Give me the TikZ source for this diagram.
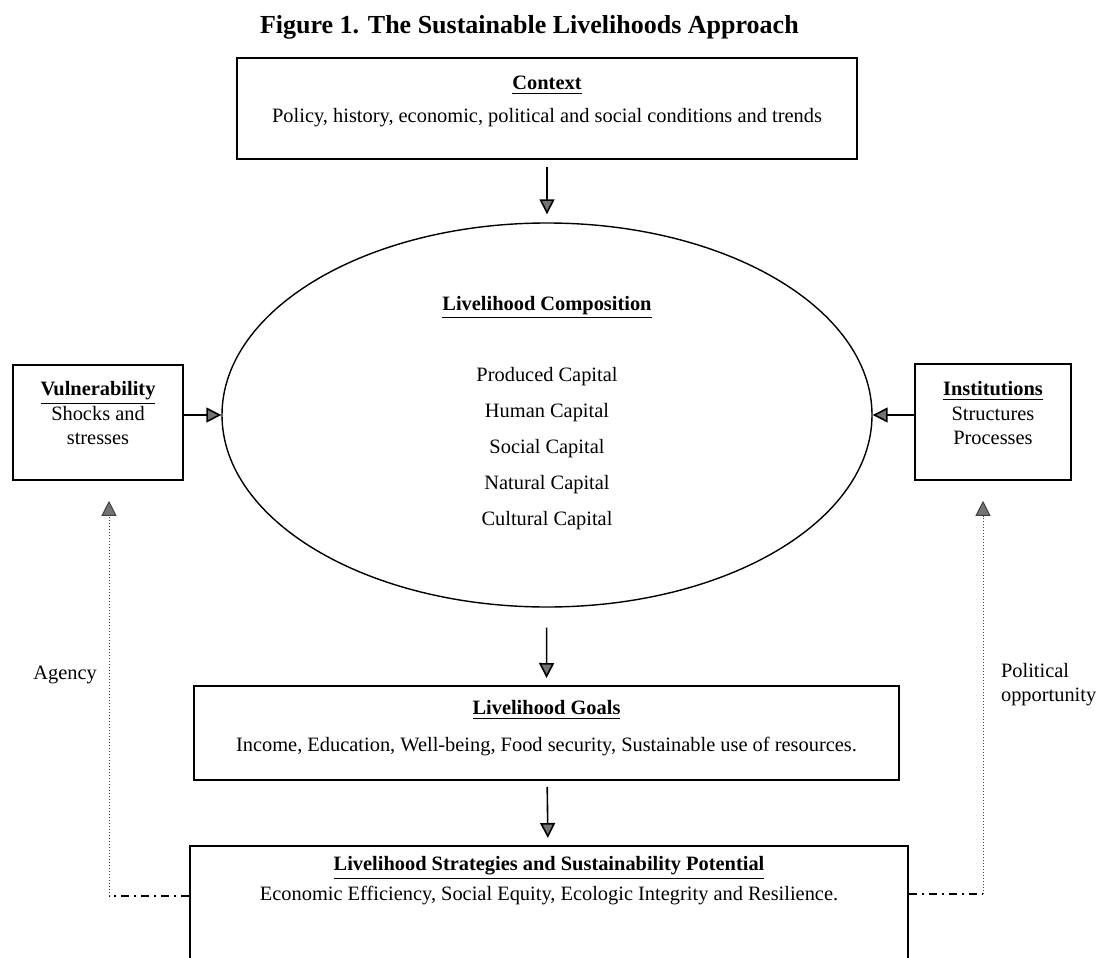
\documentclass[tikz,border=0pt]{standalone}
\usepackage{fontspec}
\setmainfont{Liberation Serif}
\usetikzlibrary{shapes.geometric, arrows.meta, positioning, calc}

\newcommand{\hd}[1]{\underline{\textbf{#1}}}

\begin{document}
\begin{tikzpicture}[
  x=0.5pt, y=-0.5pt,
  box/.style   = {rectangle, draw=black, line width=0.9pt, anchor=north,
                  inner xsep=0pt, inner ysep=0pt, align=center,
                  font=\fontsize{10.2}{#1}\selectfont},
  oval/.style  = {ellipse, draw=black, line width=0.7pt, inner sep=0pt,
                  align=center, font=\fontsize{10.2}{18}\selectfont},
  arr/.style   = {-{Triangle[width=7.5pt, length=7.5pt, fill=black!55]},
                  line width=0.8pt, draw=black},
  feed/.style  = {-{Triangle[width=7.5pt, length=7.5pt, fill=black!55]},
                  densely dotted, line width=0.5pt, draw=black!75},
  dashdot/.style = {line width=0.9pt, draw=black,
                    dash pattern=on 4pt off 2.5pt on 1pt off 2.5pt},
  lbl/.style   = {font=\fontsize{10.2}{12}\selectfont},
]

\useasboundingbox (0,0) rectangle (1098,958);
\clip (0,0) rectangle (1098,958);

% ── Title ──────────────────────────────────────────────────────────────────────
\node[anchor=west, font=\fontsize{13}{15}\selectfont\bfseries] (title) at (253,27)
  {Figure 1. The Sustainable Livelihoods Approach};

% ── Context ────────────────────────────────────────────────────────────────────
\node[box=16.5pt, minimum width=310pt, text height=32.5pt, text depth=18pt] (ctx) at (547,57)
  {\hd{Context}\\Policy, history, economic, political and social conditions and trends};

% ── Livelihood composition ─────────────────────────────────────────────────────
\node[oval, minimum width=325pt, minimum height=192pt, text height=116pt, text depth=6pt] (comp) at (547,415)
  {\hd{Livelihood Composition}\\[17.5pt]Produced Capital\\Human Capital\\Social Capital\\Natural Capital\\Cultural Capital};

% ── Vulnerability / Institutions ───────────────────────────────────────────────
\node[box=12.25pt, minimum width=85pt, text height=40pt, text depth=17.5pt] (vul) at (98,364)
  {\hd{Vulnerability}\\Shocks and\\stresses};
\node[box=12.25pt, minimum width=78pt, text height=40.5pt, text depth=17.5pt] (inst) at (993,363)
  {\hd{Institutions}\\Structures\\Processes};

% ── Goals ──────────────────────────────────────────────────────────────────────
\node[box=18.5pt, minimum width=352.5pt, text height=33pt, text depth=14pt] (goals) at (546.5,685)
  {\hd{Livelihood Goals}\\Income, Education, Well-being, Food security, Sustainable use of resources.};

% ── Strategies ─────────────────────────────────────────────────────────────────
\node[box=15pt, minimum width=359pt, text height=27.5pt, text depth=50pt] (strat) at (549,845)
  {\hd{Livelihood Strategies and Sustainability Potential}\\Economic Efficiency, Social Equity, Ecologic Integrity and Resilience.};

% ── Arrows ─────────────────────────────────────────────────────────────────────
\draw[arr, shorten <=3.5pt, shorten >=4pt] (ctx) -- (comp);
\draw[arr, shorten <=10pt, shorten >=3.5pt] (comp) -- (goals);
\draw[arr, shorten <=3pt, shorten >=3.5pt] (goals) -- (strat);
\draw[arr] (vul.east |- comp.west) -- (comp.west);
\draw[arr] (inst.west |- comp.east) -- (comp.east);

% ── Feedback loops ─────────────────────────────────────────────────────────────
\coordinate (agcorner) at (109,896);
\coordinate (pocorner) at (983,894);
\draw[dashdot] (strat.west |- agcorner) -- (agcorner);
\draw[feed, shorten >=10pt] (agcorner) -- (agcorner |- vul.south);
\draw[dashdot] (strat.east |- pocorner) -- (pocorner);
\draw[feed, shorten >=10pt] (pocorner) -- (pocorner |- inst.south);

\node[lbl, anchor=east] (agency) at (104,675) {Agency};
\node[lbl, anchor=west, align=left] (polopp) at (994,685) {Political\\opportunity};

\end{tikzpicture}
\end{document}
